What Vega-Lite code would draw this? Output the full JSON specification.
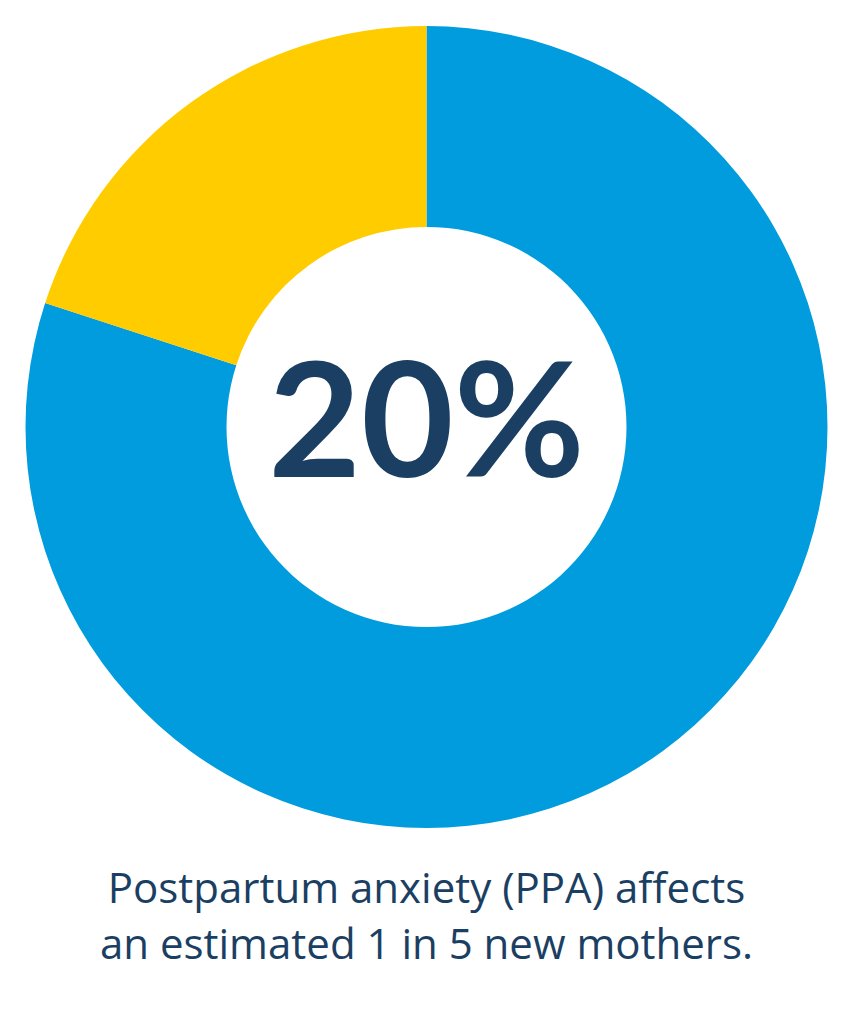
{
  "$schema": "https://vega.github.io/schema/vega-lite/v6.json",
  "width": 853,
  "height": 854,
  "autosize": {"type": "none"},
  "padding": {"left": 0, "right": 0, "top": 0, "bottom": 170},
  "background": "white",
  "config": {"view": {"stroke": null}},
  "title": {
    "text": ["Postpartum anxiety (PPA) affects", "an estimated 1 in 5 new mothers."],
    "orient": "bottom",
    "anchor": "middle",
    "font": "Open Sans",
    "fontSize": 42,
    "fontWeight": "normal",
    "color": "#1B3F63",
    "lineHeight": 56,
    "offset": 16
  },
  "layer": [
    {
      "data": {"values": [
        {"category": "Other", "value": 80},
        {"category": "PPA", "value": 20}
      ]},
      "mark": {"type": "arc", "outerRadius": 401, "innerRadius": 200},
      "encoding": {
        "theta": {"field": "value", "type": "quantitative", "stack": true},
        "order": {"field": "category", "sort": "ascending"},
        "color": {
          "field": "category",
          "type": "nominal",
          "scale": {"domain": ["Other", "PPA"], "range": ["#009CDE", "#FFCC00"]},
          "legend": null
        }
      }
    },
    {
      "data": {"values": [{"label": "20%"}]},
      "mark": {"type": "text", "font": "Lato", "fontWeight": "bold", "fontSize": 160, "color": "#1B3F63", "align": "center", "baseline": "alphabetic", "dy": 50},
      "encoding": {"text": {"field": "label"}}
    }
  ]
}
